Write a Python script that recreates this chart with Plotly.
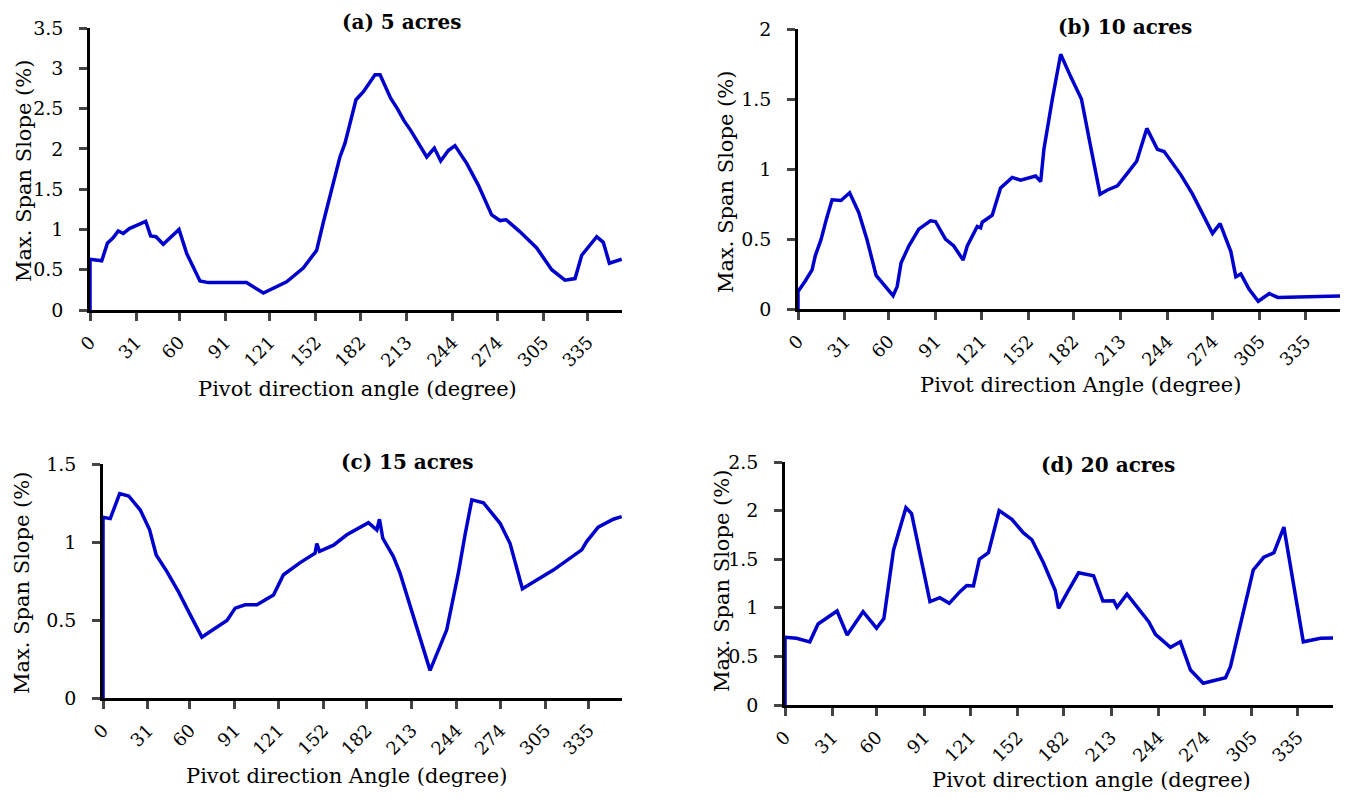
import plotly.graph_objects as go

W, H = 1346, 798

# ---------------- data ----------------
tick_vals = [0, 31, 60, 91, 121, 152, 182, 213, 244, 274, 305, 335]
tick_text = [str(v) for v in tick_vals]

xa = [0, 0, 7.9, 11.7, 15.7, 19, 22.4, 26.5, 31.4, 37.5, 40.8, 44.4, 49.3, 53.8, 59.9, 65.1, 74, 79.6,
      105.4, 116.7, 120, 126.7, 132.3, 143.5, 152.5, 156.9, 163.7, 168.2, 171.6, 179, 184, 191.8, 195.2,
      202.3, 206.8, 211.3, 215.8, 222, 226.6, 231.7, 236, 241.1, 245.6, 253.5, 261.3, 270.3, 275.9, 280,
      289.4, 300.6, 310.7, 319.6, 326.4, 330.9, 341, 345.4, 349.5, 357.8]
ya = [0, 0.63, 0.61, 0.83, 0.90, 0.98, 0.95, 1.01, 1.05, 1.10, 0.92, 0.91, 0.815, 0.89, 1.00, 0.70, 0.36,
      0.34, 0.34, 0.21, 0.24, 0.30, 0.35, 0.52, 0.74, 1.08, 1.55, 1.90, 2.07, 2.61, 2.71, 2.92, 2.92, 2.63,
      2.50, 2.35, 2.23, 2.05, 1.90, 2.01, 1.85, 1.98, 2.04, 1.82, 1.55, 1.18, 1.11, 1.12, 0.97, 0.77, 0.50,
      0.37, 0.39, 0.68, 0.91, 0.84, 0.58, 0.63]

xb = [0, 0, 4.8, 9.3, 11.4, 15.2, 18.7, 22.5, 28.4, 34.1, 40.1, 45.6, 51.6, 58.9, 62.8, 65.5, 68.1, 73.2,
      79.8, 87.5, 90.8, 97.4, 102.9, 109.1, 111.8, 118.4, 120.6, 121.7, 128.3, 133.8, 141.5, 147, 152.5,
      157, 160.3, 162.4, 168, 173.5, 180.1, 187.2, 193.3, 199.5, 204.4, 211, 217.6, 223.7, 230.4, 237.4,
      241.8, 252.8, 260.6, 273.8, 278.8, 285.9, 289.2, 292.5, 298, 304, 311.3, 316.8, 358.7]
yb = [0, 0.125, 0.20, 0.28, 0.38, 0.495, 0.64, 0.78, 0.775, 0.83, 0.69, 0.495, 0.24, 0.15, 0.095, 0.16,
      0.33, 0.45, 0.57, 0.63, 0.625, 0.50, 0.45, 0.35, 0.45, 0.59, 0.58, 0.62, 0.67, 0.865, 0.94, 0.92,
      0.94, 0.95, 0.91, 1.14, 1.50, 1.82, 1.66, 1.50, 1.16, 0.82, 0.85, 0.88, 0.97, 1.055, 1.29, 1.14,
      1.125, 0.96, 0.82, 0.54, 0.61, 0.41, 0.23, 0.25, 0.14, 0.055, 0.11, 0.083, 0.093]

xc = [0, 0, 5, 11.5, 17.7, 25.7, 32.1, 36.7, 44.1, 52.1, 60.2, 68.2, 74, 85.5, 91.2, 98.1, 106.2, 117.6,
      124.5, 136, 146.3, 147.5, 149.3, 159, 168.2, 183.1, 188.9, 190.7, 193, 200.3, 204.9, 225.6, 237.1,
      245.1, 249.7, 254.4, 262.4, 273.9, 280.8, 289.3, 299.2, 310.6, 330.2, 333.6, 341.6, 352, 357.8]
yc = [0, 1.159, 1.15, 1.31, 1.295, 1.205, 1.08, 0.917, 0.81, 0.68, 0.533, 0.39, 0.426, 0.497, 0.576,
      0.597, 0.597, 0.66, 0.79, 0.868, 0.928, 0.99, 0.94, 0.98, 1.046, 1.124, 1.077, 1.146, 1.024, 0.907,
      0.80, 0.177, 0.437, 0.80, 1.045, 1.27, 1.252, 1.12, 0.99, 0.70, 0.757, 0.82, 0.95, 1.003, 1.095,
      1.146, 1.163]

xd = [0, 0, 7.5, 16.2, 21.6, 28.1, 34, 40.6, 51, 59.8, 64.6, 70.9, 79, 82.7, 88.1, 93.2, 94.7, 101.2,
      107.3, 114.3, 118.7, 123.1, 127, 132.9, 139.9, 148.2, 155.8, 161.3, 168.9, 176.5, 178.7, 185.2,
      191.8, 201.6, 207.7, 214.7, 216.9, 223.4, 237.6, 242, 251.8, 258.3, 264.9, 273.2, 287.8, 291,
      305.9, 312.8, 319.4, 325.9, 338.6, 349.9, 358.2]
yd = [0, 0.696, 0.686, 0.65, 0.833, 0.90, 0.967, 0.72, 0.96, 0.79, 0.89, 1.595, 2.03, 1.97, 1.56, 1.20,
      1.063, 1.104, 1.046, 1.166, 1.23, 1.225, 1.5, 1.567, 2.0, 1.91, 1.77, 1.70, 1.46, 1.18, 0.995, 1.18,
      1.36, 1.33, 1.07, 1.073, 1.005, 1.14, 0.857, 0.727, 0.593, 0.65, 0.36, 0.223, 0.28, 0.394, 1.389,
      1.52, 1.567, 1.83, 0.65, 0.686, 0.69]

titles = ["(a) 5 acres", "(b) 10 acres", "(c) 15 acres", "(d) 20 acres"]
xtitles = ["Pivot direction angle (degree)", "Pivot direction Angle (degree)",
           "Pivot direction Angle (degree)", "Pivot direction angle (degree)"]
ytitle = "Max. Span Slope (%)"
ymax = [3.5, 2.0, 1.5, 2.5]

# ---------------- layout (pixel boxes) ----------------
boxes = [  # x0, x1, ytop, ybottom
    (90, 622, 28, 310),
    (798, 1340, 29, 309),
    (103, 622, 464, 698),
    (785, 1333, 462, 705),
]
title_pos = [(401, 22), (1125, 27), (408, 462), (1108, 465)]
xtitle_pos = [(357, 389), (1080, 385), (347, 776), (1091, 780)]
ytitle_pos = [(24, 171), (726, 182), (22, 583), (722, 581)]

FONT = "DejaVu Serif"
BLUE = "#0000CC"

fig = go.Figure()
series = [(xa, ya), (xb, yb), (xc, yc), (xd, yd)]
layout = dict(width=W, height=H, margin=dict(l=0, r=0, t=0, b=0, autoexpand=False),
              paper_bgcolor="white", plot_bgcolor="white", showlegend=False,
              font=dict(family=FONT, color="black"))
annotations = []
for i, ((x, y), (x0, x1, yt, yb_), ym) in enumerate(zip(series, boxes, ymax)):
    n = "" if i == 0 else str(i + 1)
    fig.add_trace(go.Scatter(x=x, y=y, mode="lines", line=dict(color=BLUE, width=3.5),
                             xaxis="x" + n, yaxis="y" + n, cliponaxis=False))
    layout["xaxis" + n] = dict(domain=[x0 / W, x1 / W], anchor="y" + n, range=[0, 358],
                               tickmode="array", tickvals=tick_vals, ticktext=tick_text,
                               tickangle=-45, ticks="outside", ticklen=8, tickwidth=2.5,
                               showline=True, linewidth=2.5, linecolor="black",
                               showgrid=False, zeroline=False, automargin=False,
                               ticklabelstandoff=4,
                               tickfont=dict(family=FONT, size=18, color="black"))
    layout["yaxis" + n] = dict(domain=[1 - yb_ / H, 1 - yt / H], anchor="x" + n, range=[0, ym],
                               dtick=0.5, tick0=0, ticks="outside", ticklen=8, tickwidth=2.5,
                               showline=True, linewidth=2.5, linecolor="black",
                               showgrid=False, zeroline=False, automargin=False,
                               ticklabelstandoff=12,
                               tickfont=dict(family=FONT, size=19, color="black"))
    tx, ty = title_pos[i]
    annotations.append(dict(text="<b>" + titles[i] + "</b>", x=tx / W, y=1 - ty / H, xref="paper",
                            yref="paper", xanchor="center", yanchor="middle", showarrow=False,
                            font=dict(family=FONT, size=20)))
    tx, ty = xtitle_pos[i]
    annotations.append(dict(text=xtitles[i], x=tx / W, y=1 - ty / H, xref="paper", yref="paper",
                            xanchor="center", yanchor="middle",
                            showarrow=False, font=dict(family=FONT, size=21)))
    tx, ty = ytitle_pos[i]
    annotations.append(dict(text=ytitle, x=tx / W, y=1 - ty / H, xref="paper", yref="paper",
                            xanchor="center", yanchor="middle",
                            textangle=-90, showarrow=False, font=dict(family=FONT, size=21)))
layout["annotations"] = annotations
fig.update_layout(**layout)
fig.write_html("out.html")
